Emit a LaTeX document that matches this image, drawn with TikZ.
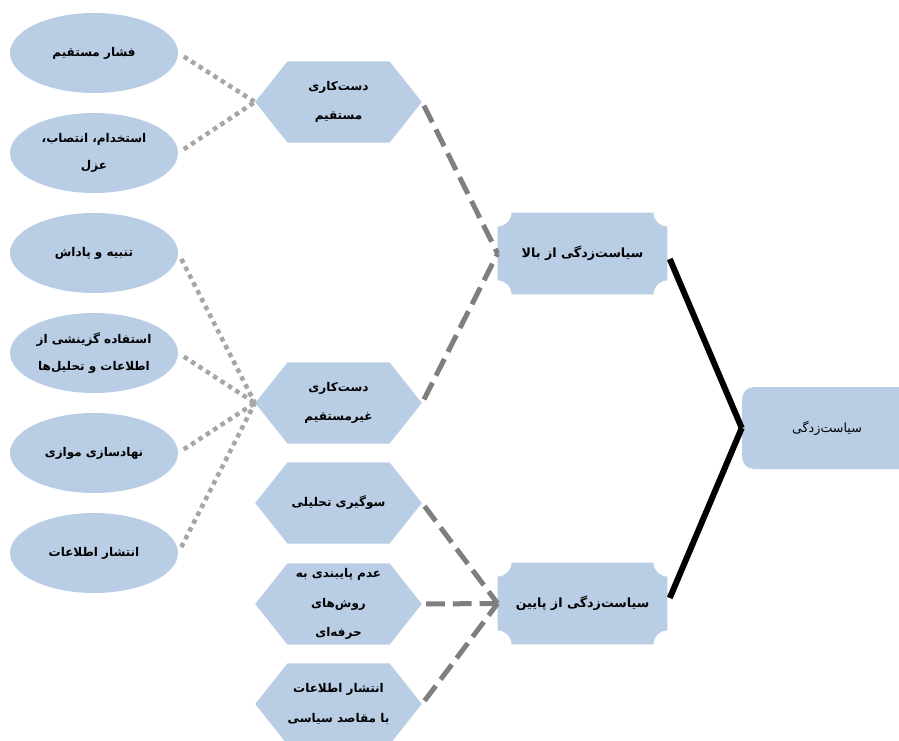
\documentclass[tikz,border=0pt]{standalone}
\usepackage{fontspec}
\usetikzlibrary{shapes.geometric,shapes.symbols,backgrounds}
\TeXXeTstate=1
\newfontfamily\arabicfont[Script=Arabic]{DejaVu Sans}
\newcommand\fa[1]{{\arabicfont\beginR #1\endR}}
\definecolor{paleblue}{HTML}{B9CDE5}
\definecolor{dotgrey}{HTML}{A6A6A6}
\definecolor{dashgrey}{HTML}{7F7F7F}

\begin{document}
\begin{tikzpicture}[x=0.75pt,y=0.75pt,
    leaf/.style={ellipse,fill=paleblue,minimum width=126pt,minimum height=60pt,
      inner sep=0pt,align=center,font=\bfseries\fontsize{9}{20}\selectfont},
    hexa/.style={signal,signal to=west and east,signal pointer angle=103,
      fill=paleblue,minimum width=125pt,minimum height=61pt,inner sep=0pt,
      align=center,font=\bfseries\fontsize{9}{22}\selectfont},
    plaque/.style={rectangle,minimum width=127pt,minimum height=61pt,inner sep=0pt,
      align=center,font=\bfseries\fontsize{9.5}{20}\selectfont},
    rootbox/.style={rectangle,rounded corners=9pt,fill=paleblue,minimum width=127.5pt,
      minimum height=61.5pt,align=center,font=\fontsize{9.5}{20}\selectfont},
    dotline/.style={dotgrey,line width=3.4pt,dash pattern=on 3.4pt off 3.2pt,shorten <=5pt},
    dashline/.style={dashgrey,line width=3.75pt,dash pattern=on 14pt off 6pt,shorten <=3pt},
    boldline/.style={black,line width=4.5pt,shorten <=4.5pt}]
  \useasboundingbox (0,0) rectangle (899,740);
  \clip (0,0) rectangle (899,740);

  % left column
  \foreach \n/\y/\lab in {%
    1/687/{\fa{فشار مستقیم}},
    2/587/{\fa{استخدام، انتصاب،}\\\fa{عزل}},
    3/487/{\fa{تنبیه و پاداش}},
    4/387/{\fa{استفاده گزینشی از}\\\fa{اطلاعات و تحلیل‌ها}},
    5/287/{\fa{نهادسازی موازی}},
    6/187/{\fa{انتشار اطلاعات}}}{
    \node[leaf] (e\n) at (94,\y) {\lab};}

  % middle column
  \node[hexa] (h1) at (338.5,638) {\fa{دست‌کاری}\\\fa{مستقیم}};
  \node[hexa] (h2) at (338.5,337) {\fa{دست‌کاری}\\\fa{غیرمستقیم}};
  \node[hexa] (h3) at (338.5,237) {\fa{سوگیری تحلیلی}};
  \node[hexa] (h4) at (338.5,136) {\fa{عدم پایبندی به}\\\fa{روش‌های}\\\fa{حرفه‌ای}};
  \node[hexa] (h5) at (338.5,36) {\fa{انتشار اطلاعات}\\\fa{با مقاصد سیاسی}};

  \node[plaque] (p1) at (582.5,486.5) {\fa{سیاست‌زدگی از بالا}};
  \node[plaque] (p2) at (582.5,136.5) {\fa{سیاست‌زدگی از پایین}};
  \node[rootbox] (root) at (827,312) {\fa{سیاست‌زدگی}};

  \begin{scope}[on background layer]
    \foreach \p in {p1,p2}
      \fill[paleblue] ([xshift=10.5pt]\p.north west) -- ([xshift=-10.5pt]\p.north east)
        arc[start angle=180,end angle=270,radius=10.5pt] -- ([yshift=10.5pt]\p.south east)
        arc[start angle=90,end angle=180,radius=10.5pt] -- ([xshift=10.5pt]\p.south west)
        arc[start angle=0,end angle=90,radius=10.5pt] -- ([yshift=-10.5pt]\p.north west)
        arc[start angle=270,end angle=360,radius=10.5pt] -- cycle;
  \end{scope}

  \foreach \e in {1,2}
    \draw[dotline] (e\e.east) -- (h1.west);
  \foreach \e in {3,...,6}
    \draw[dotline] (e\e.east) -- (h2.west);

  \draw[dashline] (h1.east) -- (p1.west);
  \draw[dashline] (h2.east) -- (p1.west);
  \foreach \h in {3,4,5}
    \draw[dashline] (h\h.east) -- (p2.west);

  \draw[boldline] (p1.east) -- (root.west);
  \draw[boldline] (p2.east) -- (root.west);
\end{tikzpicture}
\end{document}
